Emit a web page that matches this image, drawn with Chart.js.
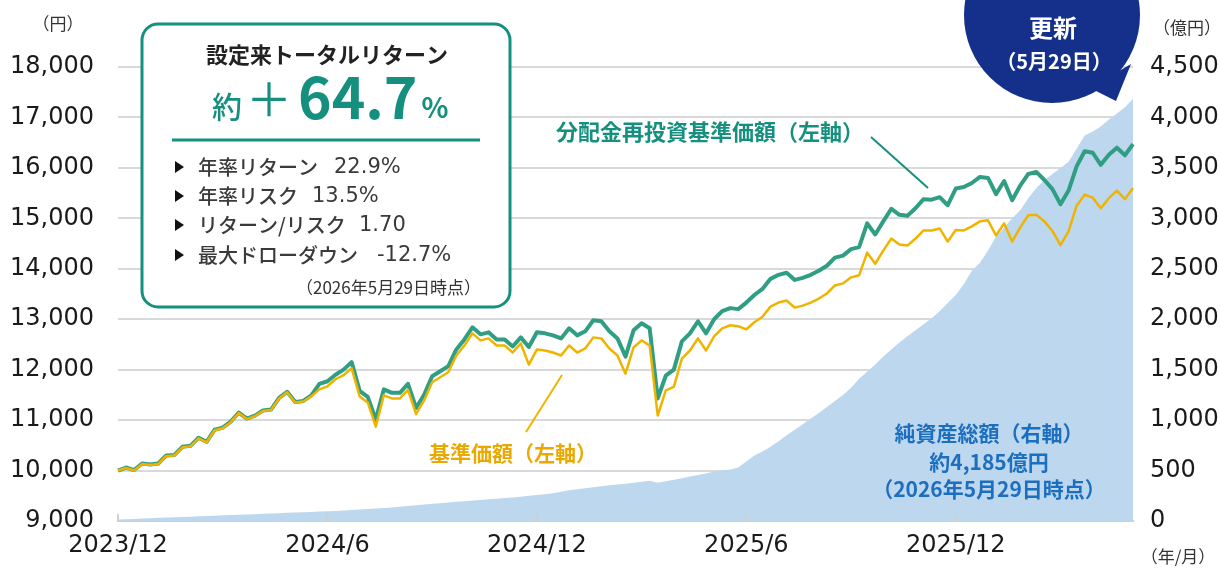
<!DOCTYPE html>
<html lang="ja">
<head>
<meta charset="utf-8">
<script src="https://cdn.jsdelivr.net/npm/chart.js@4.4.1/dist/chart.umd.min.js"></script>
<style>
  html, body { margin: 0; padding: 0; background: #fff; }
  #wrap { width: 1220px; height: 568px; }
</style>
</head>
<body>
<div id="wrap"><canvas id="chart" width="1220" height="568"></canvas></div>
<script>
// weekly points from fund start (2023/12/29) to 2026/5/29
const startDate = "2023-12-29";
const tickIndex = [0, 26, 52, 78, 104];
const tickLabels = ["2023/12", "2024/6", "2024/12", "2025/6", "2025/12"];

// 基準価額 (円)
const kijun = [
  10000, 10050, 10000, 10130, 10110, 10130, 10290, 10300, 10460, 10480,
  10640, 10560, 10800, 10840, 10960, 11140, 11020, 11080, 11180, 11200,
  11430, 11550, 11350, 11370, 11470, 11610, 11670, 11810, 11890, 12030,
  11470, 11350, 10870, 11490, 11430, 11430, 11600, 11120, 11390, 11750,
  11850, 11950, 12280, 12480, 12720, 12580, 12620, 12480, 12480, 12340,
  12520, 12100, 12400, 12380, 12340, 12280, 12480, 12340, 12420, 12640,
  12620, 12420, 12280, 11920, 12440, 12580, 12480, 11090, 11590, 11660,
  12220, 12380, 12620, 12380, 12660, 12820, 12880, 12860, 12800, 12940,
  13050, 13250, 13330, 13370, 13230, 13270, 13330, 13410, 13510, 13670,
  13710, 13830, 13870, 14320, 14100, 14360, 14600, 14480, 14460, 14600,
  14760, 14760, 14800, 14540, 14770, 14760, 14840, 14940, 14960, 14660,
  14900, 14540, 14820, 15060, 15070, 14940, 14750, 14470, 14740, 15250,
  15470, 15410, 15200, 15400, 15550, 15380, 15600
];

// 分配金再投資基準価額 (円)
const bunpai = [
  10000, 10060, 10010, 10140, 10120, 10140, 10300, 10310, 10470, 10490,
  10650, 10570, 10810, 10850, 10970, 11150, 11030, 11090, 11190, 11210,
  11440, 11560, 11360, 11380, 11490, 11720, 11770, 11900, 12000, 12150,
  11580, 11460, 11010, 11610, 11540, 11540, 11720, 11240, 11500, 11870,
  11970, 12070, 12400, 12600, 12840, 12700, 12740, 12600, 12600, 12460,
  12640, 12450, 12740, 12720, 12680, 12620, 12820, 12680, 12760, 12980,
  12960, 12760, 12620, 12260, 12780, 12920, 12820, 11430, 11880, 12000,
  12560, 12720, 12960, 12720, 13000, 13160, 13220, 13200, 13330, 13480,
  13600, 13800, 13880, 13920, 13780, 13820, 13880, 13960, 14060, 14220,
  14260, 14390, 14430, 14900, 14680, 14940, 15190, 15070, 15050, 15200,
  15380, 15370, 15420, 15260, 15590, 15620, 15700, 15820, 15800, 15480,
  15740, 15360, 15650, 15880, 15920, 15760, 15580, 15280, 15550, 16030,
  16330, 16300, 16060, 16260, 16400, 16250, 16470
];

// 純資産総額 (億円)
const netAssets = [
  15, 18, 21, 24, 27, 31, 34, 37, 40, 43,
  46, 50, 53, 56, 59, 62, 65, 68, 71, 75,
  78, 81, 84, 87, 90, 93, 96, 100, 105, 110,
  115, 120, 125, 130, 135, 142, 149, 156, 163, 170,
  177, 184, 190, 196, 202, 208, 215, 221, 227, 234,
  240, 250, 258, 265, 275, 290, 305, 315, 325, 335,
  345, 355, 363, 370, 380, 390, 400, 378, 395, 410,
  423, 440, 455, 470, 490, 500, 510, 530, 590, 650,
  690, 735, 790, 850, 905, 960, 1015, 1070, 1130, 1190,
  1250, 1320, 1410, 1480, 1550, 1630, 1700, 1770, 1830, 1890,
  1950, 2010, 2080, 2160, 2240, 2350, 2480, 2560, 2680, 2820,
  2910, 3000, 3080, 3200, 3300, 3380, 3440, 3500, 3560, 3690,
  3820, 3860, 3910, 3980, 4040, 4100, 4185
];

const dates = [];
const d0 = new Date(startDate + "T00:00:00Z");
for (let i = 0; i < kijun.length; i++) {
  const d = new Date(d0.getTime() + i * 7 * 86400000);
  dates.push(d.getUTCFullYear() + "/" + (d.getUTCMonth() + 1) + "/" + d.getUTCDate());
}

const NUM_FONT = "'DejaVu Sans', 'Noto Sans CJK JP', sans-serif";
const JP_FONT = "'Noto Sans CJK JP', sans-serif";
const TEAL = "#16907e";

function roundRect(ctx, x, y, w, h, r) {
  ctx.beginPath();
  ctx.moveTo(x + r, y);
  ctx.arcTo(x + w, y, x + w, y + h, r);
  ctx.arcTo(x + w, y + h, x, y + h, r);
  ctx.arcTo(x, y + h, x, y, r);
  ctx.arcTo(x, y, x + w, y, r);
  ctx.closePath();
}

const decorations = {
  id: "decorations",
  afterDraw(chart) {
    const ctx = chart.ctx;
    const xs = chart.scales.x;
    const area = chart.chartArea;
    ctx.save();

    // small tick marks on the date axis
    ctx.strokeStyle = "#d0d0d0";
    ctx.lineWidth = 2;
    tickIndex.forEach(i => {
      const px = xs.getPixelForValue(i);
      ctx.beginPath();
      ctx.moveTo(px, area.bottom - 7);
      ctx.lineTo(px, area.bottom + 1);
      ctx.stroke();
    });

    // axis units
    ctx.fillStyle = "#333";
    ctx.font = "17px " + JP_FONT;
    ctx.textAlign = "center";
    ctx.textBaseline = "middle";
    ctx.fillText("（円）", 58, 24);
    ctx.fillText("（億円）", 1187, 28);
    ctx.fillText("（年/月）", 1178, 557);

    // total return box
    roundRect(ctx, 142, 24, 368, 283, 16);
    ctx.fillStyle = "#fff";
    ctx.fill();
    ctx.lineWidth = 3;
    ctx.strokeStyle = TEAL;
    ctx.stroke();

    ctx.fillStyle = "#222";
    ctx.font = "bold 22px " + JP_FONT;
    ctx.fillText("設定来トータルリターン", 327, 55);

    ctx.textAlign = "left";
    ctx.textBaseline = "alphabetic";
    ctx.fillStyle = TEAL;
    let x = 212;
    ctx.font = "500 30px " + JP_FONT;
    ctx.fillText("約", x, 118);
    x += ctx.measureText("約").width + 4;
    ctx.font = "400 46px " + JP_FONT;
    ctx.fillText("＋", x, 116);
    x += ctx.measureText("＋").width + 6;
    ctx.font = "bold 57px " + JP_FONT;
    ctx.fillText("64.7", x, 119);
    x += ctx.measureText("64.7").width + 4;
    ctx.font = "bold 28px " + JP_FONT;
    ctx.fillText("%", x, 118);

    ctx.strokeStyle = TEAL;
    ctx.lineWidth = 3;
    ctx.beginPath();
    ctx.moveTo(172, 140);
    ctx.lineTo(480, 140);
    ctx.stroke();

    const rows = [
      ["年率リターン", "22.9%", 334, 167],
      ["年率リスク", "13.5%", 312, 196],
      ["リターン/リスク", "1.70", 359, 225],
      ["最大ドローダウン", "-12.7%", 377, 255]
    ];
    ctx.textBaseline = "middle";
    rows.forEach(r => {
      ctx.fillStyle = "#111";
      ctx.beginPath();
      ctx.moveTo(175, r[3] - 6);
      ctx.lineTo(184, r[3]);
      ctx.lineTo(175, r[3] + 6);
      ctx.closePath();
      ctx.fill();
      ctx.fillStyle = "#3a3a3a";
      ctx.font = "500 20px " + JP_FONT;
      ctx.fillText(r[0], 198, r[3]);
      ctx.font = "21px " + NUM_FONT;
      ctx.fillText(r[1], r[2], r[3] + 1);
    });
    ctx.textAlign = "right";
    ctx.font = "17px " + JP_FONT;
    ctx.fillStyle = "#333";
    ctx.fillText("（2026年5月29日時点）", 481, 288);

    // series labels and leader lines
    ctx.textAlign = "left";
    ctx.fillStyle = TEAL;
    ctx.font = "bold 22px " + JP_FONT;
    ctx.fillText("分配金再投資基準価額（左軸）", 556, 132);
    ctx.strokeStyle = TEAL;
    ctx.lineWidth = 2;
    ctx.beginPath();
    ctx.moveTo(871, 137);
    ctx.lineTo(928, 188);
    ctx.stroke();

    ctx.fillStyle = "#e9a900";
    ctx.font = "bold 21px " + JP_FONT;
    ctx.fillText("基準価額（左軸）", 429, 453);
    ctx.strokeStyle = "#f0b400";
    ctx.beginPath();
    ctx.moveTo(562, 375);
    ctx.lineTo(526, 432);
    ctx.stroke();

    ctx.textAlign = "center";
    ctx.fillStyle = "#1c6fbf";
    ctx.font = "bold 21px " + JP_FONT;
    ctx.fillText("純資産総額（右軸）", 989, 433);
    ctx.fillText("約4,185億円", 989, 462);
    ctx.fillText("（2026年5月29日時点）", 989, 489);

    // update bubble
    ctx.fillStyle = "#15308a";
    ctx.beginPath();
    ctx.arc(1052, 15, 88, 0, Math.PI * 2);
    ctx.fill();
    ctx.beginPath();
    ctx.moveTo(1090, 88);
    ctx.lineTo(1116, 101);
    ctx.lineTo(1131, 64);
    ctx.closePath();
    ctx.fill();
    ctx.fillStyle = "#fff";
    ctx.font = "bold 24px " + JP_FONT;
    ctx.fillText("更新", 1053, 28);
    ctx.font = "bold 20px " + JP_FONT;
    ctx.fillText("（5月29日）", 1054, 61);

    ctx.restore();
  }
};

new Chart(document.getElementById("chart"), {
  type: "line",
  data: {
    labels: dates,
    datasets: [
      {
        label: "基準価額",
        data: kijun,
        borderColor: "#f0b400",
        borderWidth: 2.5,
        yAxisID: "y",
        order: 1,
      },
      {
        label: "分配金再投資基準価額",
        data: bunpai,
        borderColor: "#2f9e82",
        borderWidth: 4,
        yAxisID: "y",
        order: 2,
      },
      {
        label: "純資産総額",
        data: netAssets,
        borderWidth: 0,
        borderColor: "#bdd7ee",
        backgroundColor: "#bdd7ee",
        fill: "origin",
        yAxisID: "y1",
        order: 3,
      },
    ],
  },
  options: {
    responsive: false,
    animation: false,
    layout: { padding: { top: 67, left: 0, right: 0, bottom: 0 } },
    elements: {
      point: { radius: 0 },
      line: { tension: 0, borderJoinStyle: "round" },
    },
    plugins: {
      legend: { display: false },
      tooltip: { enabled: false },
    },
    scales: {
      x: {
        type: "category",
        offset: false,
        grid: { display: false, drawTicks: false },
        border: { display: true, color: "#cfcfcf", width: 2 },
        ticks: {
          autoSkip: false,
          maxRotation: 0,
          padding: 10,
          color: "#1a1a1a",
          font: { family: NUM_FONT, size: 24 },
          callback: (v, i) => {
            const k = tickIndex.indexOf(i);
            return k >= 0 ? tickLabels[k] : "";
          },
        },
        afterFit: s => { s.height = 47; },
      },
      y: {
        position: "left",
        min: 9000,
        max: 18000,
        grid: { color: "#d9d9d9", lineWidth: 2, drawTicks: false },
        border: { display: false },
        ticks: {
          stepSize: 1000,
          padding: 24,
          color: "#1a1a1a",
          font: { family: NUM_FONT, size: 24 },
          callback: v => v.toLocaleString("en-US"),
        },
        afterFit: s => { s.width = 118; },
      },
      y1: {
        position: "right",
        min: 0,
        max: 4500,
        grid: { display: false, drawTicks: false },
        border: { display: false },
        ticks: {
          stepSize: 500,
          padding: 17,
          color: "#1a1a1a",
          font: { family: NUM_FONT, size: 24 },
          callback: v => v.toLocaleString("en-US"),
        },
        afterFit: s => { s.width = 87; },
      },
    },
  },
  plugins: [decorations],
});
</script>
</body>
</html>
